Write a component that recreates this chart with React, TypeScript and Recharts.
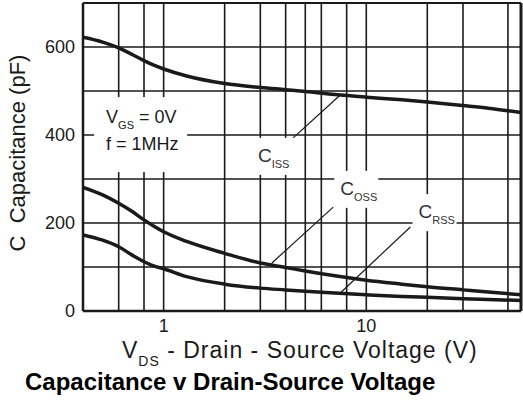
import { CartesianGrid, Line, LineChart, ReferenceDot, ReferenceLine, XAxis, YAxis } from "recharts"

// values (pF vs V)
const vds = [0.4, 0.5, 0.6, 0.7, 0.8, 0.9, 1, 1.3, 2, 3, 4, 5, 7, 10, 15, 20, 30, 40, 58]
const ciss = [622, 611, 598, 583, 569, 558, 550, 534, 517, 508, 503, 499, 492, 486, 480, 475, 467, 461, 451]
const coss = [281, 264, 245, 226, 207, 192, 180, 158, 131, 109, 99, 91, 80, 70, 61, 55, 48, 43, 37]
const crss = [173, 161, 146, 127, 112, 102, 96, 78, 61, 52, 48, 45, 41, 37, 33, 31, 28, 26, 24]

const xTicks = [1, 10]
const yTicks = [0, 200, 400, 600]
const xGrid = [0.5, 0.6, 0.7, 0.8, 0.9, 1, 2, 3, 4, 5, 6, 7, 8, 9, 10, 20, 30, 40, 50]
const yGrid = [100, 200, 300, 400, 500, 600]

// curve labels + leader lines (data coords)
const curveLabels = [
  { name: "ISS", x: 2.92, y: 339, from: { x: 4.25, y: 389 }, to: { x: 7.44, y: 491 } },
  { name: "OSS", x: 7.44, y: 264, from: { x: 6.87, y: 236 }, to: { x: 3.42, y: 109 } },
  { name: "RSS", x: 18.1, y: 211, from: { x: 16.5, y: 191 }, to: { x: 7.44, y: 41 } },
]

const data = vds.map((v, i) => ({ v, ciss: ciss[i], coss: coss[i], crss: crss[i] }))

const ink = "#1a1a1a"

function CurveLabel(props: any) {
  const { cx, cy, sub } = props
  return (
    <g>
      <rect x={cx - 6} y={cy - 24} width={44} height={37} fill="#fff" />
      <text x={cx} y={cy} fontSize={19} fill="#333">
        C
        <tspan fontSize={11} dy={6}>
          {sub}
        </tspan>
      </text>
    </g>
  )
}

function CondLabel(props: any) {
  const { cx, cy } = props
  return (
    <g>
      <rect x={cx - 12} y={cy - 26} width={93} height={75} fill="#fff" />
      <text x={cx} y={cy} fontSize={18} fill={ink}>
        V
        <tspan fontSize={11} dy={6}>
          GS
        </tspan>
        <tspan dy={-6}> = 0V</tspan>
      </text>
      <text x={cx} y={cy + 27} fontSize={18} fill={ink}>
        f = 1MHz
      </text>
    </g>
  )
}

export default function App() {
  return (
    <div style={{ position: "relative", width: 523, height: 402, fontFamily: "'Liberation Sans', Arial, sans-serif" }}>
      <style>{"body{margin:0}"}</style>
      <LineChart width={523} height={402} data={data} margin={{ top: 3, right: 2, left: 0, bottom: 61 }}>
        <CartesianGrid
          verticalValues={xGrid}
          horizontalValues={yGrid}
          stroke={ink}
          strokeWidth={1.6}
        />
        <XAxis
          dataKey="v"
          type="number"
          scale="log"
          domain={[0.4, 58]}
          allowDataOverflow
          ticks={xTicks}
          tickLine={false}
          height={30}
          axisLine={{ stroke: ink, strokeWidth: 2.5 }}
          tick={{ fontSize: 18, fill: ink }}
        />
        <YAxis
          type="number"
          domain={[0, 700]}
          ticks={yTicks}
          tickLine={false}
          width={83}
          axisLine={{ stroke: ink, strokeWidth: 2.5 }}
          tick={{ fontSize: 18, fill: ink }}
        />
        <ReferenceLine y={700} stroke={ink} strokeWidth={2} />
        <ReferenceLine x={58} stroke={ink} strokeWidth={3} />
        <ReferenceDot x={0.52} y={427} r={0} shape={(p: any) => <CondLabel {...p} />} />
        {curveLabels.map((l) => (
          <ReferenceDot key={l.name} x={l.x} y={l.y} r={0} shape={(p: any) => <CurveLabel {...p} sub={l.name} />} />
        ))}
        {curveLabels.map((l) => (
          <ReferenceLine key={"s" + l.name} segment={[l.from, l.to]} stroke={ink} strokeWidth={1.2} />
        ))}
        <Line dataKey="ciss" type="monotone" stroke={ink} strokeWidth={3.5} dot={false} isAnimationActive={false} />
        <Line dataKey="coss" type="monotone" stroke={ink} strokeWidth={3.5} dot={false} isAnimationActive={false} />
        <Line dataKey="crss" type="monotone" stroke={ink} strokeWidth={3.5} dot={false} isAnimationActive={false} />
      </LineChart>
      <svg width={523} height={402} style={{ position: "absolute", left: 0, top: 0, pointerEvents: "none" }}>
        <text x={25} y={153} fontSize={22} fill={ink} textAnchor="middle" transform="rotate(-90 25 153)">
          {"C\u00a0\u00a0Capacitance (pF)"}
        </text>
        <text x={122} y={358} fontSize={23} fill={ink} letterSpacing={1}>
          V
          <tspan fontSize={14} dy={8}>
            DS
          </tspan>
          <tspan dy={-8}> - Drain - Source Voltage (V)</tspan>
        </text>
        <text x={25} y={390} fontSize={24} fontWeight="bold" fill="#000">
          Capacitance v Drain-Source Voltage
        </text>
      </svg>
    </div>
  )
}
